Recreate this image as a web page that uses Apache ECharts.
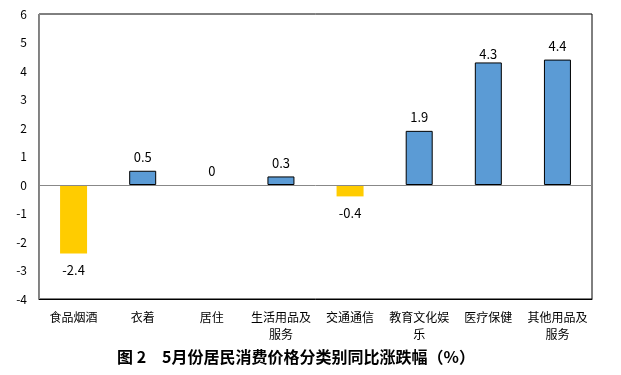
<!DOCTYPE html>
<html><head><meta charset="utf-8">
<script src="https://cdn.jsdelivr.net/npm/echarts@6/dist/echarts.min.js"></script>
<style>html,body{margin:0;padding:0;background:#fff}#c{width:621px;height:375px}</style>
</head><body><div id="c"></div>
<script>
const categories = ['食品烟酒','衣着','居住','生活用品及\n服务','交通通信','教育文化娱\n乐','医疗保健','其他用品及\n服务'];
const values = [-2.4, 0.5, 0, 0.3, -0.4, 1.9, 4.3, 4.4];
const yTicks = [-4,-3,-2,-1,0,1,2,3,4,5,6];
const titleText = '图 2　5月份居民消费价格分类别同比涨跌幅（%）';

const font = '"Noto Sans CJK SC", "Liberation Sans", sans-serif';
const chart = echarts.init(document.getElementById('c'), null, {renderer:'canvas'});
chart.setOption({
  animation: false,
  title: {text: titleText, left: 112, top: 344,
    textStyle: {fontFamily: font, fontSize: 16, fontWeight: 'bold', color: '#000'}},
  grid: {left: 39, right: 29, top: 14, bottom: 76, show: true, borderColor: '#000', borderWidth: 1},
  xAxis: {type: 'category', data: categories,
    axisLine: {onZero: false, lineStyle: {color: '#000'}}, axisTick: {show: false},
    axisLabel: {fontFamily: font, fontSize: 12, color: '#000', margin: 10, lineHeight: 17, interval: 0}},
  yAxis: {type: 'value', min: yTicks[0], max: yTicks[yTicks.length-1], interval: 1,
    splitLine: {show: false}, axisLine: {show: true, lineStyle: {color: '#888'}}, axisTick: {show: false},
    axisLabel: {fontFamily: font, fontSize: 12, color: '#000', margin: 12}},
  series: [{type: 'bar', barWidth: 27,
    data: values.map((v, i) => ({value: v,
      itemStyle: v < 0 ? {color: '#FFCC00', borderWidth: 0}
        : (v === 0 ? {color: 'rgba(0,0,0,0)', borderWidth: 0} : {color: '#5B9BD5', borderColor: '#000', borderWidth: 1}),
      label: {position: v < 0 ? 'bottom' : 'top', distance: v < 0 ? 10 : (i === 6 ? 2 : 7)}})),
    label: {show: true, fontFamily: font, fontSize: 13, color: '#000'},
    markLine: {silent: true, symbol: 'none', label: {show: false},
      lineStyle: {color: '#888', type: 'solid', width: 1}, data: [{yAxis: 0}]}
  }]
});
</script></body></html>
